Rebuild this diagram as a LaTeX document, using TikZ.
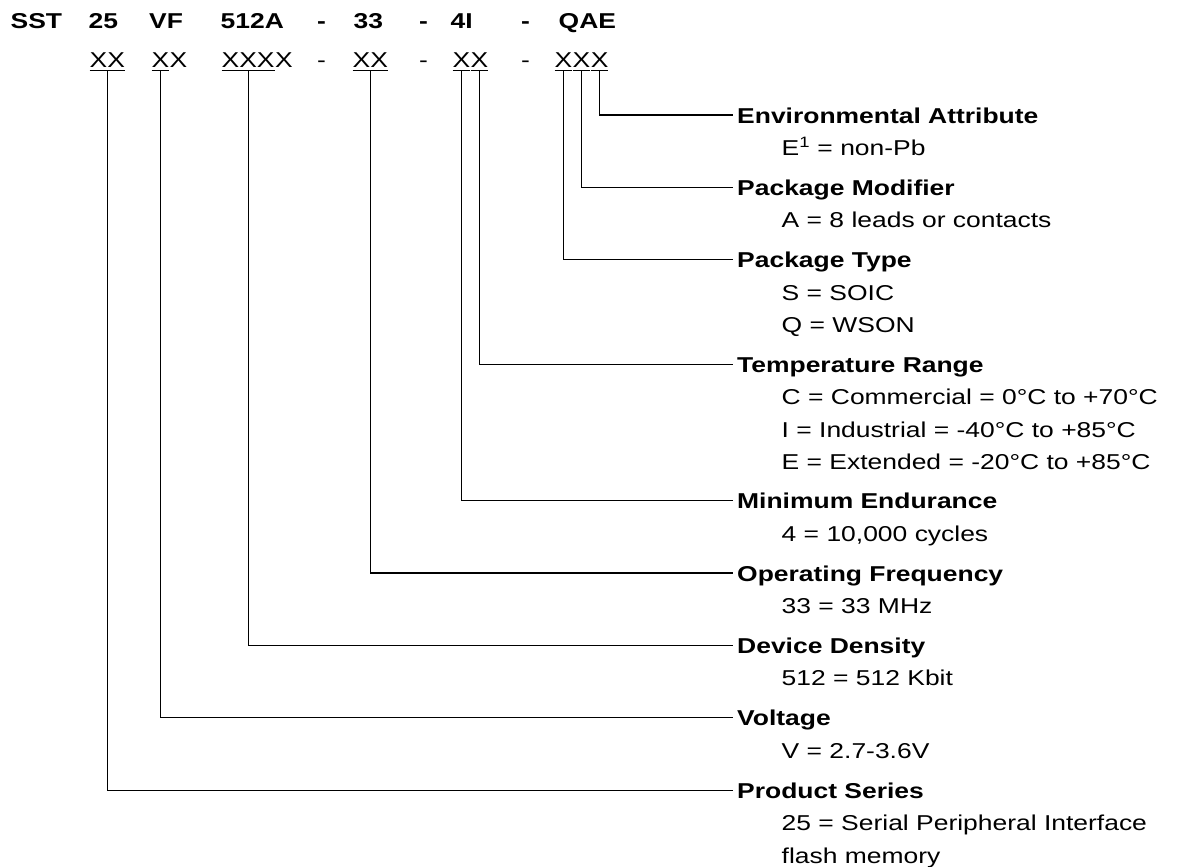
\documentclass[tikz,border=0pt]{standalone}
\usepackage{fontspec}
\setmainfont{Liberation Sans}[FakeStretch=1.23]
\usetikzlibrary{positioning}

\newcommand{\undr}[1]{\vtop{\hbox{#1}\kern2pt\hrule height 1.3pt}}

\begin{document}
\begin{tikzpicture}[x=1pt,y=1pt,
    txt/.style={inner sep=0pt,font=\fontsize{21.5}{32}\selectfont},
    bold/.style={txt,font=\fontsize{21.5}{32}\selectfont\bfseries,anchor=base west},
    code/.style={txt,anchor=base west},
    head/.style={txt,font=\fontsize{21.5}{32}\selectfont\bfseries,text height=16pt,text depth=0pt,inner xsep=4pt},
    desc/.style={txt,text height=16pt,text depth=0pt},
    under/.style={below=#1,anchor=north west},
    conn/.style={line width=1.3pt}]
  \useasboundingbox (0,0) rectangle (1178,-867);

  % part number
  \node[bold] (sst)   at (10.5,-29)  {SST};
  \node[bold] (ser)   at (88.5,-29)  {25};
  \node[bold] (volt)  at (149,-29)   {VF};
  \node[bold] (dens)  at (220.5,-29) {512A};
  \node[bold] (h1)    at (317,-29)   {-};
  \node[bold] (freq)  at (353.5,-29) {33};
  \node[bold] (h2)    at (419,-29)   {-};
  \node[bold] (grade) at (450.5,-29) {4I};
  \node[bold] (h3)    at (521,-29)   {-};
  \node[bold] (pack)  at (558.5,-29) {QAE};

  % code fields
  \node[code] (c25)   at (89.5,-68)  {\undr{XX}};
  \node[code] (cVF)   at (151.5,-68) {\undr{X}};
  \node[code] (cVFb)  at (cVF.base east) {X};
  \node[code] (c512)  at (221.5,-68) {\undr{XXX}};
  \node[code] (c512b) at (c512.base east) {X};
  \node[code] (ch1)   at (317,-68)   {-};
  \node[code] (c33)   at (352.5,-68) {\undr{XX}};
  \node[code] (ch2)   at (419,-68)   {-};
  \node[code] (cEnd)  at (452.5,-68) {\undr{X}};
  \node[code] (cTmp)  at (cEnd.base east) {\undr{X}};
  \node[code] (ch3)   at (521,-68)   {-};
  \node[code] (cPkg)  at (554.5,-68) {\undr{X}};
  \node[code] (cMod)  at (cPkg.base east) {\undr{X}};
  \node[code] (cEnv)  at (cMod.base east) {\undr{X}};

  % legend
  \node[head,anchor=west] (envT) at (733,-115) {Environmental Attribute};
  \node[desc,under=16pt of envT.south west,xshift=48.5pt] (envD) {E\textsuperscript{1} = non-Pb};
  \node[head,under=56pt of envT.south west] (pmT) {Package Modifier};
  \node[desc,under=16pt of pmT.south west,xshift=48.5pt] (pmD) {A = 8 leads or contacts};
  \node[head,under=56pt of pmT.south west] (ptT) {Package Type};
  \node[desc,under=16pt of ptT.south west,xshift=48.5pt] (ptD1) {S = SOIC};
  \node[desc,under=16pt of ptD1.south west] (ptD2) {Q = WSON};
  \node[head,under=88pt of ptT.south west] (trT) {Temperature Range};
  \node[desc,under=16pt of trT.south west,xshift=48.5pt] (trD1) {C = Commercial = 0°C to +70°C};
  \node[desc,under=16pt of trD1.south west] (trD2) {I = Industrial = -40°C to +85°C};
  \node[desc,under=16pt of trD2.south west] (trD3) {E = Extended = -20°C to +85°C};
  \node[head,under=120pt of trT.south west] (meT) {Minimum Endurance};
  \node[desc,under=16pt of meT.south west,xshift=48.5pt] (meD) {4 = 10,000 cycles};
  \node[head,under=56pt of meT.south west] (ofT) {Operating Frequency};
  \node[desc,under=16pt of ofT.south west,xshift=48.5pt] (ofD) {33 = 33 MHz};
  \node[head,under=56pt of ofT.south west] (ddT) {Device Density};
  \node[desc,under=16pt of ddT.south west,xshift=48.5pt] (ddD) {512 = 512 Kbit};
  \node[head,under=56pt of ddT.south west] (vT) {Voltage};
  \node[desc,under=16pt of vT.south west,xshift=48.5pt] (vD) {V = 2.7-3.6V};
  \node[head,under=56pt of vT.south west] (psT) {Product Series};
  \node[desc,under=16pt of psT.south west,xshift=48.5pt] (psD1) {25 = Serial Peripheral Interface};
  \node[desc,under=16pt of psD1.south west] (psD2) {flash memory};

  % connectors
  \draw[conn] (cEnv.south) |- (envT.west);
  \draw[conn] (cMod.south) |- (pmT.west);
  \draw[conn] (cPkg.south) |- (ptT.west);
  \draw[conn] (cTmp.south) |- (trT.west);
  \draw[conn] (cEnd.south) |- (meT.west);
  \draw[conn] (c33.south) |- (ofT.west);
  \draw[conn] (c512.south) |- (ddT.west);
  \draw[conn] (cVF.south) |- (vT.west);
  \draw[conn] (c25.south) |- (psT.west);
\end{tikzpicture}
\end{document}
